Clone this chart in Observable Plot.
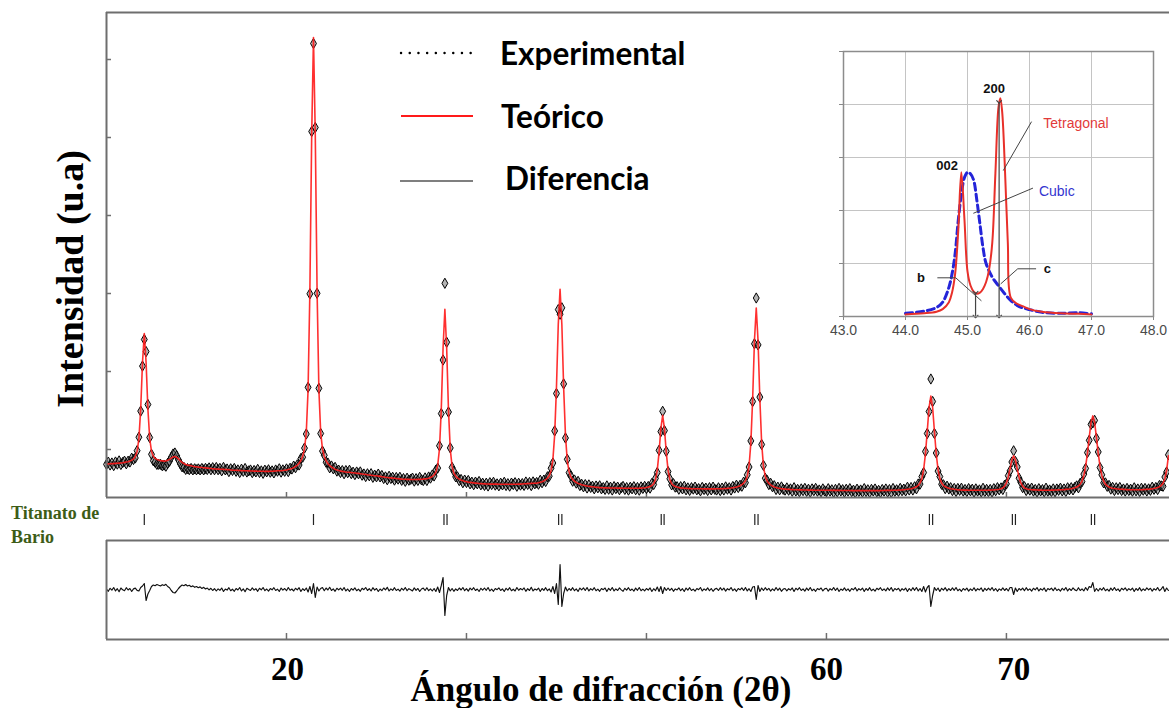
<!DOCTYPE html>
<html>
<head>
<meta charset="utf-8">
<script src="https://cdn.jsdelivr.net/npm/d3@7"></script>
<script src="https://cdn.jsdelivr.net/npm/@observablehq/plot@0.6"></script>
<style>
  html, body { margin: 0; padding: 0; background: #fff; }
  #root { position: relative; width: 1169px; height: 708px; overflow: hidden; background: #fff; }
  #root > svg, #root > figure { position: absolute; margin: 0; }
</style>
</head>
<body>
<div id="root"></div>
<script>
// ---------- DATA ----------
// 2θ measurement grid (degrees)
const twoThetaStart = 20.0;
const twoThetaStep = 0.1;

// Calculated (Teórico) profile, arbitrary units, one value per 0.1°
const teorico = [
  336,336,337,339,339,341,342,344,345,347,
  351,355,358,365,373,386,409,459,588,884,
  1349,1640,1349,885,590,462,413,391,381,374,
  368,366,364,365,372,381,393,405,410,402,
  386,367,352,339,331,324,321,318,312,309,
  307,304,302,300,298,296,294,292,290,288,
  286,285,284,283,282,281,280,279,277,275,
  273,272,272,271,270,269,268,268,267,266,
  265,265,264,264,263,262,262,262,261,261,
  261,262,263,264,265,267,267,268,270,272,
  274,279,284,290,299,310,323,343,370,411,
  484,650,1077,2067,3620,4600,3620,2067,1077,650,
  484,410,368,340,319,305,293,283,276,270,
  264,261,258,255,253,252,249,247,245,243,
  241,238,235,233,230,227,225,223,220,218,
  217,214,211,208,205,202,200,198,196,194,
  192,190,188,186,184,183,182,181,181,180,
  180,180,180,181,181,182,184,186,188,193,
  200,210,225,254,319,487,879,1495,1882,1493,
  875,481,311,244,213,196,184,175,168,162,
  158,154,151,149,146,144,142,140,139,137,
  136,135,135,134,134,134,134,134,133,133,
  132,132,132,132,132,132,133,133,133,134,
  134,135,137,137,139,140,141,142,142,144,
  147,152,158,166,178,195,219,268,375,626,
  1100,1729,2083,1727,1096,620,367,258,207,181,
  163,150,141,134,128,123,119,115,112,109,
  107,105,103,101,99,97,97,96,96,95,
  95,95,95,95,94,94,94,93,93,93,
  92,92,92,92,92,92,93,94,95,97,
  100,104,110,120,138,179,274,452,689,822,
  689,452,274,179,138,120,110,104,99,96,
  94,92,91,90,89,88,88,88,87,87,
  87,87,86,86,86,86,86,86,86,87,
  87,87,88,89,90,91,93,95,98,101,
  105,110,118,129,144,168,213,313,546,985,
  1567,1895,1566,984,545,311,211,166,141,126,
  114,106,100,95,91,88,86,84,82,81,
  80,79,78,77,77,76,76,75,75,75,
  74,74,74,73,73,73,73,73,72,72,
  72,72,72,71,71,71,71,71,70,70,
  70,70,70,70,69,69,69,69,69,69,
  69,69,69,69,69,69,69,69,69,69,
  69,70,70,71,71,71,71,72,72,73,
  74,75,76,78,80,82,85,88,93,99,
  107,121,144,189,279,435,660,900,1015,900,
  660,435,279,189,144,121,107,99,93,88,
  85,82,80,78,76,75,74,74,74,73,
  73,73,72,72,72,72,72,72,72,73,
  73,74,75,76,78,80,83,88,96,113,
  146,203,286,375,417,375,286,203,146,113,
  96,88,83,80,78,76,76,75,74,74,
  73,73,73,73,73,74,74,75,75,76,
  77,78,79,81,83,85,88,92,97,104,
  115,133,164,220,311,441,602,751,816,751,
  602,441,311,221,165,134,116,105,98,93,
  90,87,85,82,82,81,80,79,78,77,
  77,77,77,77,78,78,79,80,81,82,
  84,87,90,94,100,108,120,142,185,270,
  417
];

// Diferencia curve as drawn (up = positive), same grid and units
const diferencia = [
  5,-18,12,-6,20,-14,8,-22,15,-3,
  -12,18,-5,10,-20,6,14,-9,-15,20,
  35,60,-110,-45,-10,30,45,38,50,42,
  36,48,40,52,30,18,-10,-30,-35,-15,
  10,30,45,38,50,35,42,28,36,22,
  30,18,26,10,22,5,14,-4,12,-10,
  8,-15,6,-8,15,-20,4,-6,18,-12,
  3,-18,10,-5,20,-14,6,-22,12,0,
  -10,16,-6,8,-18,12,-4,20,-12,5,
  -16,9,-3,18,-10,4,-20,14,-6,10,
  -12,20,-8,5,-15,12,-4,18,-20,8,
  -10,15,-25,30,-40,60,-80,25,-15,10,
  20,-12,15,-5,22,-10,6,-18,12,-4,
  14,-8,20,-14,5,-20,10,-6,16,-12,
  4,-18,12,-2,20,-10,8,-15,18,-6,
  10,-20,5,-12,15,-4,22,-14,6,-8,
  18,-10,4,-16,12,-6,20,-12,8,-2,
  -14,16,-8,10,-20,5,14,-10,18,-12,
  6,-15,10,-20,25,-30,40,120,-260,-60,
  20,-15,10,-18,6,-10,15,-5,20,-12,
  8,-16,14,-4,18,-10,5,-20,12,-6,
  15,-8,20,-14,4,-18,10,-2,16,-10,
  6,-20,12,-6,18,-12,3,-15,20,-8,
  10,-4,16,-18,8,-10,22,-14,5,-6,
  14,-20,10,-8,18,-12,6,-25,30,-40,
  60,-150,250,-170,-40,25,-15,10,-8,18,
  -12,6,-20,14,-4,16,-10,20,-14,8,
  -6,18,-12,4,-18,10,-2,15,-20,12,
  -8,20,-14,6,-10,16,-4,-18,12,-6,
  18,-10,5,-16,14,-8,20,-12,4,-14,
  10,-6,16,-20,8,-12,25,-20,30,-40,
  20,-10,15,-8,12,-18,6,-4,16,-12,
  8,-20,14,-6,18,-10,4,-16,10,-2,
  20,-14,6,-8,16,-12,10,-18,4,12,
  -10,18,-6,14,-16,8,-4,20,-12,6,
  -18,10,-4,16,-10,20,-14,8,-20,25,
  30,-100,40,-20,15,-10,18,-6,12,-16,
  6,-12,20,-8,14,-18,4,10,-14,8,
  -6,16,-20,12,-4,18,-10,6,-16,14,
  -8,20,-12,4,-18,10,-2,15,-14,6,
  12,-16,8,-6,20,-10,14,-20,5,-8,
  16,-12,6,-18,10,-4,20,-14,8,-6,
  14,-20,10,-8,18,-12,4,-16,12,-2,
  18,-10,6,-14,16,-8,20,-18,10,-4,
  12,-16,8,-6,14,-20,10,-12,18,-8,
  20,-14,10,-20,30,-25,20,40,-170,-60,
  20,-10,15,-20,12,-6,18,-14,8,-10,
  16,-8,20,-12,4,-18,10,-6,14,-16,
  6,-10,18,-14,8,-4,16,-20,12,-8,
  14,-6,20,-12,10,-18,6,-8,16,-10,
  10,-15,20,20,-50,15,-20,10,-6,14,
  -12,18,-8,6,-16,12,-4,20,-14,8,
  -6,16,-20,10,-2,14,-12,18,-10,4,
  -16,12,-6,20,-14,8,-10,16,-4,-12,
  18,-10,6,-14,20,-8,30,20,70,-20,
  10,-15,12,-6,18,-12,4,-16,14,-8,
  20,-10,6,-18,12,-4,16,-12,8,-6,
  14,-20,10,-8,18,-14,6,-10,16,-4,
  12,-16,8,-6,20,-12,4,30,-20,15,
  -10
];

// Bragg reflection positions of Titanato de Bario (2θ)
const braggPositions = [22.1, 31.5, 38.75, 38.92, 45.12, 45.3, 50.82, 50.98, 56.02, 56.2, 65.72, 65.9, 70.33, 70.5, 74.72, 74.9];

// axis ticks
const mainYTicks = [480, 1260, 2040, 2820, 3600, 4380];
const xTicks = [30, 40, 50, 60, 70];
const xLabelPositions = [30.06, 60, 70.4];
const xLabels = ["20", "60", "70"];

// Inset: zoom around 45° (002 / 200)
const insetTetragonalX = [44.0,44.3,44.5,44.6,44.7,44.75,44.8,44.85,44.9,44.95,45.0,45.05,45.1,45.15,45.2,45.25,45.3,45.35,45.4,45.45,45.5,45.53,45.56,45.6,45.65,45.7,45.8,45.9,46.0,46.2,46.5,46.8,47.0];
const insetTetragonalY = [0.04,0.06,0.09,0.14,0.27,0.45,0.8,1.6,2.72,1.85,0.85,0.58,0.47,0.43,0.45,0.52,0.65,0.9,1.4,2.7,3.95,4.12,3.85,2.9,1.4,0.35,0.24,0.19,0.14,0.09,0.06,0.05,0.04];
const insetCubicX = [44.0,44.3,44.5,44.6,44.7,44.75,44.8,44.85,44.9,44.95,45.0,45.05,45.1,45.15,45.2,45.25,45.3,45.4,45.5,45.6,45.7,45.8,45.9,46.0,46.2,46.5,46.8,47.0];
const insetCubicY = [0.06,0.1,0.17,0.27,0.55,0.8,1.18,1.8,2.3,2.62,2.72,2.69,2.57,2.2,1.75,1.3,1.0,0.74,0.58,0.43,0.3,0.21,0.16,0.13,0.08,0.06,0.07,0.05];
const insetXTicks = [43, 44, 45, 46, 47, 48];
const insetYTicks = [0, 1, 2, 3, 4, 5];
const insetGridX = [44, 45, 46, 47];
const insetGridY = [1, 2, 3, 4];
const insetHklLabels = ["200", "002"];
const insetHklX = [45.43, 44.67];
const insetHklY = [4.3, 2.84];
const insetPhaseLabels = ["Tetragonal", "Cubic"];
const insetPhaseX = [46.75, 46.44];
const insetPhaseY = [3.64, 2.35];
const insetLatticeLabels = ["b", "c"];
const insetLatticeX = [44.25, 46.29];
const insetLatticeY = [0.73, 0.9];
const leaderId = ["t","t","cu","cu","b","b","b","c","c","c"];
const leaderX = [46.03,45.58, 46.05,45.1, 44.52,44.81,45.22, 46.1,45.81,45.54];
const leaderY = [3.67,2.76, 2.42,1.95, 0.73,0.73,0.30, 0.9,0.9,0.62];
const arrowX = [45.13, 45.51];
const arrowTop = [0.45, 4.05];
const arrowBottom = [0, 0];

// ---------- BUILD ----------
const rows = teorico.map((t, i) => ({
  x: +(twoThetaStart + i * twoThetaStep).toFixed(2),
  calc: t,
  diff: diferencia[i],
  obs: t - diferencia[i]
}));

const xDomain = [20, 79.06];
const frameColor = "#6e6e6e";
const root = document.getElementById("root");

function place(el, left, top) {
  el.style.left = left + "px";
  el.style.top = top + "px";
  root.appendChild(el);
}

// Main panel
const mainPlot = Plot.plot({
  width: 1169, height: 500,
  marginLeft: 106, marginRight: 0, marginTop: 12, marginBottom: 3,
  x: {domain: xDomain},
  y: {domain: [0, 4850]},
  style: {background: "transparent", overflow: "visible"},
  marks: [
    Plot.axisY({ticks: mainYTicks, tickSize: -5, tickFormat: () => "", stroke: frameColor, strokeWidth: 1.5, label: null}),
    Plot.axisX({ticks: xTicks, tickSize: -5, tickFormat: () => "", stroke: frameColor, strokeWidth: 1.5, label: null}),
    Plot.dot(rows, {x: "x", y: "obs", symbol: "diamond", r: 3.1, stroke: "#000", strokeWidth: 1, fill: "#6a6a6a", fillOpacity: 0.5}),
    Plot.line(rows, {x: "x", y: "calc", stroke: "#ff1a1a", strokeWidth: 1.6, strokeOpacity: 0.9}),
    Plot.ruleX([xDomain[0]], {stroke: frameColor, strokeWidth: 2}),
    Plot.ruleY([0, 4850], {stroke: frameColor, strokeWidth: 2})
  ]
});
place(mainPlot, 0, 0);

// Bragg reflection markers
const braggPlot = Plot.plot({
  width: 1169, height: 18,
  marginLeft: 106, marginRight: 0, marginTop: 4, marginBottom: 3,
  x: {domain: xDomain, axis: null},
  style: {background: "transparent"},
  marks: [
    Plot.tickX(braggPositions, {x: d => d, stroke: "#222", strokeWidth: 1.2})
  ]
});
place(braggPlot, 0, 510);

// Difference panel
const diffPlot = Plot.plot({
  width: 1169, height: 178,
  marginLeft: 106, marginRight: 0, marginTop: 10, marginBottom: 69,
  x: {domain: xDomain},
  y: {domain: [-500, 490]},
  style: {background: "transparent", overflow: "visible"},
  marks: [
    Plot.axisY({ticks: [], label: null}),
    Plot.axisX({ticks: xTicks, tickSize: -6, tickFormat: () => "", stroke: frameColor, strokeWidth: 1.5, label: null}),
    Plot.line(rows, {x: "x", y: "diff", stroke: "#111", strokeWidth: 1.15}),
    Plot.ruleX([xDomain[0]], {stroke: frameColor, strokeWidth: 2}),
    Plot.ruleY([-500, 490], {stroke: frameColor, strokeWidth: 2}),
    Plot.text(xLabelPositions, {
      x: d => d, text: (d, i) => xLabels[i], frameAnchor: "bottom", dy: 30,
      fontSize: 33, fontWeight: "bold", fontFamily: "Liberation Serif, serif", fill: "#000", lineAnchor: "middle"
    })
  ]
});
place(diffPlot, 0, 530);

// Inset
const tetra = insetTetragonalX.map((x, i) => ({x, y: insetTetragonalY[i]}));
const cubic = insetCubicX.map((x, i) => ({x, y: insetCubicY[i]}));
const leaders = leaderX.map((x, i) => ({x, y: leaderY[i], id: leaderId[i]}));
const arrows = arrowX.map((x, i) => ({x, y1: arrowTop[i], y2: arrowBottom[i]}));
const insetPlot = Plot.plot({
  width: 349, height: 330,
  marginLeft: 23, marginRight: 16, marginTop: 31, marginBottom: 34,
  x: {domain: [43, 48]},
  y: {domain: [0, 5]},
  style: {background: "#fff", overflow: "hidden"},
  marks: [
    Plot.ruleX(insetGridX, {stroke: "#c4c4c4", strokeWidth: 1}),
    Plot.ruleY(insetGridY, {stroke: "#c4c4c4", strokeWidth: 1}),
    Plot.axisX({ticks: insetXTicks, tickSize: 4, tickPadding: 5, tickFormat: d => d.toFixed(1), fontSize: 14, fontFamily: "Liberation Sans, Arial, sans-serif", fill: "#4a4a4a", stroke: "#888", label: null}),
    Plot.axisY({ticks: insetYTicks, tickSize: 4, tickFormat: () => "", stroke: "#888", label: null}),
    Plot.line(cubic, {x: "x", y: "y", stroke: "#2424d8", strokeWidth: 3, strokeDasharray: "7,4", curve: "catmull-rom"}),
    Plot.line(tetra, {x: "x", y: "y", stroke: "#e8302a", strokeWidth: 2, curve: "catmull-rom"}),
    Plot.line(leaders, {x: "x", y: "y", z: "id", stroke: "#444", strokeWidth: 1}),
    Plot.link(arrows, {x1: "x", x2: "x", y1: "y1", y2: "y2", stroke: "#444", strokeWidth: 1.2, markerStart: "arrow", markerEnd: "arrow"}),
    Plot.text(insetHklLabels, {x: (d, i) => insetHklX[i], y: (d, i) => insetHklY[i], text: d => d, fontSize: 13, fontWeight: "bold", fontFamily: "Liberation Sans, Arial, sans-serif", fill: "#111"}),
    Plot.text(insetPhaseLabels, {x: (d, i) => insetPhaseX[i], y: (d, i) => insetPhaseY[i], text: d => d, fontSize: 14, fontFamily: "Liberation Sans, Arial, sans-serif", fill: (d, i) => i === 0 ? "#e23a3a" : "#3434d0"}),
    Plot.text(insetLatticeLabels, {x: (d, i) => insetLatticeX[i], y: (d, i) => insetLatticeY[i], text: d => d, fontSize: 13, fontWeight: "bold", fontFamily: "Liberation Sans, Arial, sans-serif", fill: "#111"}),
    Plot.frame({stroke: "#8c8c8c", strokeWidth: 1.5})
  ]
});
place(insetPlot, 820, 20);

// Titles, legend and phase label (overlay)
const NS = "http://www.w3.org/2000/svg";
const overlay = document.createElementNS(NS, "svg");
overlay.setAttribute("width", 1169);
overlay.setAttribute("height", 708);
overlay.style.pointerEvents = "none";
overlay.innerHTML = `
  <line x1="401" y1="53" x2="473" y2="53" stroke="#000" stroke-width="2.4" stroke-linecap="round" stroke-dasharray="0.1,8.6"/>
  <text x="500" y="65" font-family="Lato, 'Open Sans', sans-serif" font-weight="700" font-size="31.5" fill="#000">Experimental</text>
  <line x1="401" y1="116" x2="473" y2="116" stroke="#ff1a1a" stroke-width="2"/>
  <text x="501" y="128" font-family="Lato, 'Open Sans', sans-serif" font-weight="700" font-size="31.5" fill="#000">Teórico</text>
  <line x1="400" y1="181" x2="473" y2="181" stroke="#555" stroke-width="1.3"/>
  <text x="505" y="190" font-family="Lato, 'Open Sans', sans-serif" font-weight="700" font-size="31.5" fill="#000">Diferencia</text>
  <text transform="translate(83,279) rotate(-90)" text-anchor="middle" font-family="'Liberation Serif', serif" font-weight="700" font-size="38" fill="#000">Intensidad (u.a)</text>
  <text x="601" y="701" text-anchor="middle" font-family="'Liberation Serif', serif" font-weight="700" font-size="35" fill="#000">Ángulo de difracción (2θ)</text>
  <text x="11" y="519" font-family="'Liberation Serif', serif" font-weight="700" font-size="18" fill="#3d5c17">Titanato de</text>
  <text x="11" y="543" font-family="'Liberation Serif', serif" font-weight="700" font-size="18" fill="#3d5c17">Bario</text>
`;
place(overlay, 0, 0);
</script>
</body>
</html>
